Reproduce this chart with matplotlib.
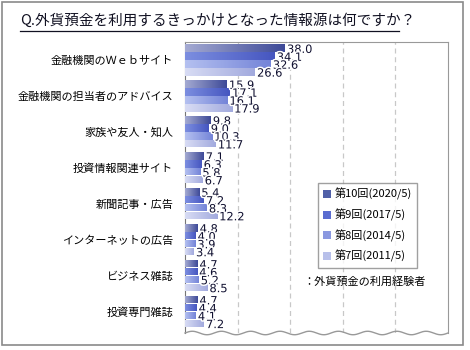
import numpy as np
import matplotlib
matplotlib.use("Agg")
import matplotlib.pyplot as plt
from matplotlib.colors import LinearSegmentedColormap
import matplotlib.patheffects as pe
from matplotlib.patches import Rectangle

plt.rcParams['font.family'] = ['Noto Sans CJK JP', 'DejaVu Sans']

title = "Q.外貨預金を利用するきっかけとなった情報源は何ですか？"
categories = ["金融機関のＷｅｂサイト", "金融機関の担当者のアドバイス", "家族や友人・知人",
              "投資情報関連サイト", "新聞記事・広告", "インターネットの広告",
              "ビジネス雑誌", "投資専門雑誌"]
series_names = ["第10回(2020/5)", "第9回(2017/5)", "第8回(2014/5)", "第7回(2011/5)"]
v2020 = [38.0, 15.9, 9.8, 7.1, 5.4, 4.8, 4.7, 4.7]
v2017 = [34.1, 17.1, 9.0, 6.3, 7.2, 4.0, 4.6, 4.4]
v2014 = [32.6, 16.1, 10.3, 5.8, 8.3, 3.9, 5.2, 4.1]
v2011 = [26.6, 17.9, 11.7, 6.7, 12.2, 3.4, 8.5, 7.2]
note = "：外貨預金の利用経験者"

values = [v2020, v2017, v2014, v2011]
# light (left) -> dark (right) per series
grads = [("#a4aad2", "#3e4a98"), ("#7c8ee0", "#4656c0"),
         ("#b4c0f0", "#7484d8"), ("#d8dcf4", "#a2aade")]
solid = ["#5060a8", "#5a6cd0", "#8a98e0", "#b8c0ea"]

fig = plt.figure(figsize=(4.7, 3.5), dpi=100)
fig.patches.append(Rectangle((2/470, 5/350), 461/470, 343/350, transform=fig.transFigure,
                             fill=False, edgecolor="#8a8a8a", linewidth=1.2))

ax = fig.add_axes([185/470, 1 - 333/350, 263/470, 291/350])

h = 0.21
d = 0.22
y0 = np.arange(len(categories))
for k, vals in enumerate(values):
    ys = y0 + (k - 1.5) * d
    cmap = LinearSegmentedColormap.from_list("g%d" % k, grads[k])
    bars = ax.barh(ys, vals, height=h, color=solid[k], label=series_names[k], zorder=3)
    for b, y, v in zip(bars, ys, vals):
        im = ax.imshow(np.linspace(0, 1, 64).reshape(1, -1), cmap=cmap, aspect="auto",
                       extent=[0, v, y + h / 2, y - h / 2], zorder=3.5)
        im.set_clip_path(b)
        t = ax.text(v + 0.8, y + 0.05, "%.1f" % v, fontsize=8.2, va="center", ha="left",
                    color="#101030", family="DejaVu Sans", zorder=5)
        t.set_path_effects([pe.withStroke(linewidth=2.2, foreground="white")])

ax.set_xticks([20, 40, 60, 80])
ax.xaxis.grid(True, linestyle=(0, (4, 3)), color="#c8c8c8", linewidth=0.9, zorder=0)
ax.tick_params(axis="x", length=0, labelbottom=False)
ax.set_yticks(y0)
ax.set_yticklabels(categories, fontsize=8)
ax.tick_params(axis="y", length=0, pad=8.5)
ax.set_xlim(0, 100)
ax.set_ylim(7.6, -0.5)
for s in ["left", "top", "right"]:
    ax.spines[s].set_color("#999999")
ax.spines["left"].set_color("#777777")
ax.spines["bottom"].set_visible(False)
wx = np.linspace(0, 1, 300)
ax.plot(wx, 0.006 * np.sin(wx * 2 * np.pi * 9), transform=ax.transAxes, color="#999999",
        linewidth=1, clip_on=False, zorder=6)

leg = fig.legend(loc="upper left", bbox_to_anchor=(312/470, 1 - 177/350), fontsize=8,
                 frameon=True, fancybox=False, edgecolor="#888888", handlelength=0.7,
                 handleheight=0.7, handletextpad=0.3, labelspacing=0.75, borderpad=0.5)
leg.get_frame().set_linewidth(1)
fig.text(303/470, 1 - 281/350, note, fontsize=8, va="center", ha="left")

fig.text(20/470, 1 - 21/350, title, fontsize=10.5, va="center", ha="left", color="#111122")
fig.add_artist(plt.Line2D([20/470, 399/470], [1 - 31/350, 1 - 31/350], color="#111122",
                          linewidth=0.9))

fig.savefig("out.png", dpi=100)
